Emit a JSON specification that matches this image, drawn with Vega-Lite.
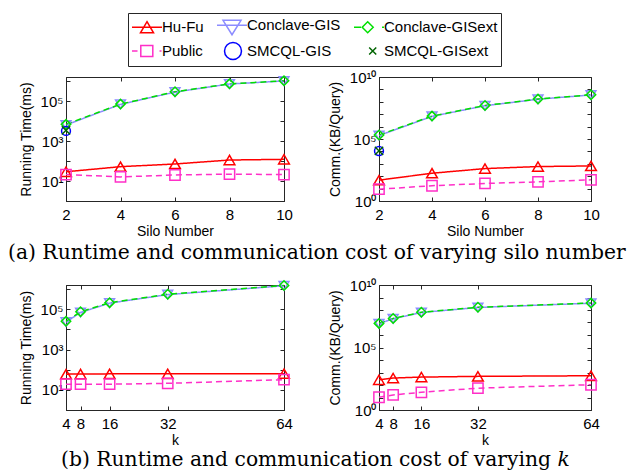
{
  "$schema": "https://vega.github.io/schema/vega-lite/v6.json",
  "padding": {"left": 7, "top": 12, "right": 0, "bottom": 0},
  "background": "white",
  "datasets": {
    "pts": [
      {"p": "a1", "m": "Hu-Fu", "x": 2, "v": 29},
      {"p": "a1", "m": "Hu-Fu", "x": 4, "v": 52},
      {"p": "a1", "m": "Hu-Fu", "x": 6, "v": 71},
      {"p": "a1", "m": "Hu-Fu", "x": 8, "v": 112},
      {"p": "a1", "m": "Hu-Fu", "x": 10, "v": 121},
      {"p": "a1", "m": "Public", "x": 2, "v": 21},
      {"p": "a1", "m": "Public", "x": 4, "v": 16},
      {"p": "a1", "m": "Public", "x": 6, "v": 20},
      {"p": "a1", "m": "Public", "x": 8, "v": 22},
      {"p": "a1", "m": "Public", "x": 10, "v": 21},
      {"p": "a1", "m": "Conclave-GIS", "x": 2, "v": 6300},
      {"p": "a1", "m": "Conclave-GIS", "x": 4, "v": 68000},
      {"p": "a1", "m": "Conclave-GIS", "x": 6, "v": 280000},
      {"p": "a1", "m": "Conclave-GIS", "x": 8, "v": 710000},
      {"p": "a1", "m": "Conclave-GIS", "x": 10, "v": 1000000},
      {"p": "a1", "m": "Conclave-GISext", "x": 2, "v": 6800},
      {"p": "a1", "m": "Conclave-GISext", "x": 4, "v": 70000},
      {"p": "a1", "m": "Conclave-GISext", "x": 6, "v": 290000},
      {"p": "a1", "m": "Conclave-GISext", "x": 8, "v": 720000},
      {"p": "a1", "m": "Conclave-GISext", "x": 10, "v": 1020000},
      {"p": "a1", "m": "SMCQL-GIS", "x": 2, "v": 3200},
      {"p": "a1", "m": "SMCQL-GISext", "x": 2, "v": 3400},

      {"p": "a2", "m": "Hu-Fu", "x": 2, "v": 48},
      {"p": "a2", "m": "Hu-Fu", "x": 4, "v": 174},
      {"p": "a2", "m": "Hu-Fu", "x": 6, "v": 410},
      {"p": "a2", "m": "Hu-Fu", "x": 8, "v": 600},
      {"p": "a2", "m": "Hu-Fu", "x": 10, "v": 670},
      {"p": "a2", "m": "Public", "x": 2, "v": 9},
      {"p": "a2", "m": "Public", "x": 4, "v": 17},
      {"p": "a2", "m": "Public", "x": 6, "v": 26},
      {"p": "a2", "m": "Public", "x": 8, "v": 35},
      {"p": "a2", "m": "Public", "x": 10, "v": 51},
      {"p": "a2", "m": "Conclave-GIS", "x": 2, "v": 190000},
      {"p": "a2", "m": "Conclave-GIS", "x": 4, "v": 6700000},
      {"p": "a2", "m": "Conclave-GIS", "x": 6, "v": 48000000},
      {"p": "a2", "m": "Conclave-GIS", "x": 8, "v": 160000000},
      {"p": "a2", "m": "Conclave-GIS", "x": 10, "v": 360000000},
      {"p": "a2", "m": "Conclave-GISext", "x": 2, "v": 210000},
      {"p": "a2", "m": "Conclave-GISext", "x": 4, "v": 7000000},
      {"p": "a2", "m": "Conclave-GISext", "x": 6, "v": 50000000},
      {"p": "a2", "m": "Conclave-GISext", "x": 8, "v": 165000000},
      {"p": "a2", "m": "Conclave-GISext", "x": 10, "v": 370000000},
      {"p": "a2", "m": "SMCQL-GIS", "x": 2, "v": 10700},
      {"p": "a2", "m": "SMCQL-GISext", "x": 2, "v": 11000},

      {"p": "b1", "m": "Hu-Fu", "x": 4, "v": 60},
      {"p": "b1", "m": "Hu-Fu", "x": 8, "v": 61},
      {"p": "b1", "m": "Hu-Fu", "x": 16, "v": 62},
      {"p": "b1", "m": "Hu-Fu", "x": 32, "v": 62},
      {"p": "b1", "m": "Hu-Fu", "x": 64, "v": 63},
      {"p": "b1", "m": "Public", "x": 4, "v": 19},
      {"p": "b1", "m": "Public", "x": 8, "v": 19},
      {"p": "b1", "m": "Public", "x": 16, "v": 19},
      {"p": "b1", "m": "Public", "x": 32, "v": 21},
      {"p": "b1", "m": "Public", "x": 64, "v": 32},
      {"p": "b1", "m": "Conclave-GIS", "x": 4, "v": 23000},
      {"p": "b1", "m": "Conclave-GIS", "x": 8, "v": 69000},
      {"p": "b1", "m": "Conclave-GIS", "x": 16, "v": 200000},
      {"p": "b1", "m": "Conclave-GIS", "x": 32, "v": 530000},
      {"p": "b1", "m": "Conclave-GIS", "x": 64, "v": 1450000},
      {"p": "b1", "m": "Conclave-GISext", "x": 4, "v": 25000},
      {"p": "b1", "m": "Conclave-GISext", "x": 8, "v": 75000},
      {"p": "b1", "m": "Conclave-GISext", "x": 16, "v": 210000},
      {"p": "b1", "m": "Conclave-GISext", "x": 32, "v": 550000},
      {"p": "b1", "m": "Conclave-GISext", "x": 64, "v": 1500000},

      {"p": "b2", "m": "Hu-Fu", "x": 4, "v": 260},
      {"p": "b2", "m": "Hu-Fu", "x": 8, "v": 360},
      {"p": "b2", "m": "Hu-Fu", "x": 16, "v": 430},
      {"p": "b2", "m": "Hu-Fu", "x": 32, "v": 490},
      {"p": "b2", "m": "Hu-Fu", "x": 64, "v": 550},
      {"p": "b2", "m": "Public", "x": 4, "v": 10.5},
      {"p": "b2", "m": "Public", "x": 8, "v": 16},
      {"p": "b2", "m": "Public", "x": 16, "v": 26},
      {"p": "b2", "m": "Public", "x": 32, "v": 56},
      {"p": "b2", "m": "Public", "x": 64, "v": 105},
      {"p": "b2", "m": "Conclave-GIS", "x": 4, "v": 8000000},
      {"p": "b2", "m": "Conclave-GIS", "x": 8, "v": 20000000},
      {"p": "b2", "m": "Conclave-GIS", "x": 16, "v": 63000000},
      {"p": "b2", "m": "Conclave-GIS", "x": 32, "v": 160000000},
      {"p": "b2", "m": "Conclave-GIS", "x": 64, "v": 350000000},
      {"p": "b2", "m": "Conclave-GISext", "x": 4, "v": 8500000},
      {"p": "b2", "m": "Conclave-GISext", "x": 8, "v": 21000000},
      {"p": "b2", "m": "Conclave-GISext", "x": 16, "v": 66000000},
      {"p": "b2", "m": "Conclave-GISext", "x": 32, "v": 165000000},
      {"p": "b2", "m": "Conclave-GISext", "x": 64, "v": 360000000}
    ]
  },
  "config": {
    "view": {"stroke": "#262626", "strokeWidth": 1},
    "axis": {
      "labelFont": "Liberation Sans", "labelFontSize": 15, "labelColor": "#000",
      "titleFont": "Liberation Sans", "titleFontSize": 14, "titleFontWeight": "normal", "titleColor": "#000",
      "grid": false, "domainColor": "#262626", "tickColor": "#262626", "tickSize": -4,
      "labelOverlap": false, "labelFlush": false
    },
    "axisX": {"labelPadding": 10, "titlePadding": 2},
    "axisY": {"labelPadding": 7, "titlePadding": 7},
    "title": {"font": "DejaVu Serif", "fontSize": 20.3, "fontWeight": "normal", "color": "#000",
              "orient": "bottom", "anchor": "start", "frame": "group", "baseline": "middle"}
  },
  "bounds": "flush",
  "columns": 2,
  "spacing": {"row": 84, "column": 95},
  "concat": [
    {
      "width": 218, "height": 124,
      "title": {"text": "(a) Runtime and communication cost of varying silo number", "offset": 5, "dx": -58},
      "data": {"name": "pts"},
      "transform": [{"filter": "datum.p == 'a1'"}],
      "resolve": {"axis": {"x": "independent", "y": "independent"}},
      "layer": [
        {
          "mark": {"type": "line", "strokeWidth": 1.5},
          "encoding": {
            "x": {"field": "x", "type": "quantitative", "scale": {"domain": [2, 10], "nice": false, "zero": false},
                  "axis": {"orient": "top", "labels": false, "title": null, "domain": false, "values": [2, 4, 6, 8, 10]}},
            "y": {"field": "v", "type": "quantitative", "scale": {"type": "log", "domain": [1, 1584893], "nice": false},
                  "axis": {"orient": "right", "labels": false, "title": null, "domain": false, "values": [1, 10, 100, 1000, 10000, 100000, 1000000]}},
            "color": {
              "field": "m", "type": "nominal",
              "scale": {"domain": ["Hu-Fu", "Conclave-GIS", "Conclave-GISext", "Public", "SMCQL-GIS", "SMCQL-GISext"],
                        "range": ["#FF0000", "#8C8CFF", "#00E000", "#FF2FC8", "#0000FF", "#006400"]},
              "legend": {
                "orient": "none", "legendX": 62, "legendY": -64,
                "direction": "horizontal", "columns": 3, "title": null,
                "strokeColor": "#262626", "fillColor": "#ffffff", "padding": 3,
                "labelFont": "Liberation Sans", "labelFontSize": 15, "labelColor": "#000",
                "symbolSize": 256, "symbolStrokeWidth": 1.5, "labelOffset": 13,
                "columnPadding": 10, "rowPadding": 1,
                "encode": {
                  "symbols": {
                    "update": {
                      "shape": {"signal": "datum.value == 'Hu-Fu' ? 'M-1,0H2.75M0.875,-0.69L1.69,0.69L0.06,0.69Z' : datum.value == 'Conclave-GIS' ? 'M-1,0H2.75M-0.25,-0.62L2,-0.62L0.875,1.19Z' : datum.value == 'Conclave-GISext' ? 'M-1,0H-0.125M0.71,-0.69L1.4,0L0.71,0.69L0.025,0ZM2.5,0H2.75' : datum.value == 'Public' ? 'M-1,0H-0.31M0.1,-0.69H1.6V0.69H0.1ZM2.44,0H2.69' : datum.value == 'SMCQL-GIS' ? 'M2.06,0A1.06,1.06,0,1,1,-0.06,0A1.06,1.06,0,1,1,2.06,0Z' : 'M0.9,-0.44L1.78,0.44M0.9,0.44L1.78,-0.44'"},
                      "fill": {"value": "transparent"},
                      "opacity": {"value": 1}
                    }
                  }
                }
              }
            },
            "strokeDash": {"field": "m", "type": "nominal", "legend": null,
              "scale": {"domain": ["Hu-Fu", "Public", "Conclave-GIS", "Conclave-GISext", "SMCQL-GIS", "SMCQL-GISext"],
                        "range": [[1, 0], [6, 4], [1, 0], [6, 4], [1, 0], [1, 0]]}}
          }
        },
        {
          "mark": {"type": "point", "filled": false, "strokeWidth": 1.5, "opacity": 1},
          "encoding": {
            "x": {"field": "x", "type": "quantitative", "axis": {"orient": "bottom", "title": "Silo Number", "values": [2, 4, 6, 8, 10]}},
            "y": {"field": "v", "type": "quantitative",
                  "axis": {"orient": "left", "title": "Running Time(ms)", "values": [1, 10, 100, 1000, 10000, 100000, 1000000],
                           "labelExpr": "datum.value == 10 ? '10¹' : datum.value == 1000 ? '10³' : datum.value == 100000 ? '10⁵' : ''"}},
            "color": {"field": "m", "type": "nominal", "legend": null},
            "shape": {"field": "m", "type": "nominal", "legend": null,
              "scale": {"domain": ["Hu-Fu", "Public", "Conclave-GIS", "Conclave-GISext", "SMCQL-GIS", "SMCQL-GISext"],
                        "range": ["triangle-up", "square", "triangle-down", "diamond", "circle", "M-1,-1L1,1M-1,1L1,-1"]}},
            "size": {"field": "m", "type": "nominal", "legend": null,
              "scale": {"domain": ["Hu-Fu", "Public", "Conclave-GIS", "Conclave-GISext", "SMCQL-GIS", "SMCQL-GISext"],
                        "range": [115, 70, 178, 55, 115, 40]}}
          }
        }
      ]
    },
    {
      "width": 212, "height": 124,
      "data": {"name": "pts"},
      "transform": [{"filter": "datum.p == 'a2'"}],
      "resolve": {"axis": {"x": "independent", "y": "independent"}},
      "layer": [
        {
          "mark": {"type": "line", "strokeWidth": 1.5},
          "encoding": {
            "x": {"field": "x", "type": "quantitative", "scale": {"domain": [2, 10], "nice": false, "zero": false},
                  "axis": {"orient": "top", "labels": false, "title": null, "domain": false, "values": [2, 4, 6, 8, 10]}},
            "y": {"field": "v", "type": "quantitative", "scale": {"type": "log", "domain": [1, 10000000000], "nice": false},
                  "axis": {"orient": "right", "labels": false, "title": null, "domain": false, "values": [1, 10, 100, 1000, 10000, 100000, 1000000, 10000000, 100000000, 1000000000, 10000000000]}},
            "color": {"field": "m", "type": "nominal", "legend": null},
            "strokeDash": {"field": "m", "type": "nominal", "legend": null}
          }
        },
        {
          "mark": {"type": "point", "filled": false, "strokeWidth": 1.5, "opacity": 1},
          "encoding": {
            "x": {"field": "x", "type": "quantitative", "axis": {"orient": "bottom", "title": "Silo Number", "values": [2, 4, 6, 8, 10]}},
            "y": {"field": "v", "type": "quantitative",
                  "axis": {"orient": "left", "title": "Comm.(KB/Query)", "values": [1, 10, 100, 1000, 10000, 100000, 1000000, 10000000, 100000000, 1000000000, 10000000000],
                           "labelExpr": "datum.value == 1 ? '10⁰' : datum.value == 100000 ? '10⁵' : datum.value == 10000000000 ? '10¹⁰' : ''"}},
            "color": {"field": "m", "type": "nominal", "legend": null},
            "shape": {"field": "m", "type": "nominal", "legend": null},
            "size": {"field": "m", "type": "nominal", "legend": null}
          }
        }
      ]
    },
    {
      "width": 218, "height": 125,
      "title": {"text": "(b) Runtime and communication cost of varying 𝑘", "offset": 3, "dx": -5},
      "data": {"name": "pts"},
      "transform": [{"filter": "datum.p == 'b1'"}],
      "resolve": {"axis": {"x": "independent", "y": "independent"}},
      "layer": [
        {
          "mark": {"type": "line", "strokeWidth": 1.5},
          "encoding": {
            "x": {"field": "x", "type": "quantitative", "scale": {"domain": [4, 64], "nice": false, "zero": false},
                  "axis": {"orient": "top", "labels": false, "title": null, "domain": false, "values": [4, 8, 16, 32, 64]}},
            "y": {"field": "v", "type": "quantitative", "scale": {"type": "log", "domain": [1, 1584893], "nice": false},
                  "axis": {"orient": "right", "labels": false, "title": null, "domain": false, "values": [1, 10, 100, 1000, 10000, 100000, 1000000]}},
            "color": {"field": "m", "type": "nominal", "legend": null},
            "strokeDash": {"field": "m", "type": "nominal", "legend": null}
          }
        },
        {
          "mark": {"type": "point", "filled": false, "strokeWidth": 1.5, "opacity": 1},
          "encoding": {
            "x": {"field": "x", "type": "quantitative", "axis": {"orient": "bottom", "title": "k", "values": [4, 8, 16, 32, 64]}},
            "y": {"field": "v", "type": "quantitative",
                  "axis": {"orient": "left", "title": "Running Time(ms)", "values": [1, 10, 100, 1000, 10000, 100000, 1000000],
                           "labelExpr": "datum.value == 10 ? '10¹' : datum.value == 1000 ? '10³' : datum.value == 100000 ? '10⁵' : ''"}},
            "color": {"field": "m", "type": "nominal", "legend": null},
            "shape": {"field": "m", "type": "nominal", "legend": null},
            "size": {"field": "m", "type": "nominal", "legend": null}
          }
        }
      ]
    },
    {
      "width": 212, "height": 125,
      "data": {"name": "pts"},
      "transform": [{"filter": "datum.p == 'b2'"}],
      "resolve": {"axis": {"x": "independent", "y": "independent"}},
      "layer": [
        {
          "mark": {"type": "line", "strokeWidth": 1.5},
          "encoding": {
            "x": {"field": "x", "type": "quantitative", "scale": {"domain": [4, 64], "nice": false, "zero": false},
                  "axis": {"orient": "top", "labels": false, "title": null, "domain": false, "values": [4, 8, 16, 32, 64]}},
            "y": {"field": "v", "type": "quantitative", "scale": {"type": "log", "domain": [1, 10000000000], "nice": false},
                  "axis": {"orient": "right", "labels": false, "title": null, "domain": false, "values": [1, 10, 100, 1000, 10000, 100000, 1000000, 10000000, 100000000, 1000000000, 10000000000]}},
            "color": {"field": "m", "type": "nominal", "legend": null},
            "strokeDash": {"field": "m", "type": "nominal", "legend": null}
          }
        },
        {
          "mark": {"type": "point", "filled": false, "strokeWidth": 1.5, "opacity": 1},
          "encoding": {
            "x": {"field": "x", "type": "quantitative", "axis": {"orient": "bottom", "title": "k", "values": [4, 8, 16, 32, 64]}},
            "y": {"field": "v", "type": "quantitative",
                  "axis": {"orient": "left", "title": "Comm.(KB/Query)", "values": [1, 10, 100, 1000, 10000, 100000, 1000000, 10000000, 100000000, 1000000000, 10000000000],
                           "labelExpr": "datum.value == 1 ? '10⁰' : datum.value == 100000 ? '10⁵' : datum.value == 10000000000 ? '10¹⁰' : ''"}},
            "color": {"field": "m", "type": "nominal", "legend": null},
            "shape": {"field": "m", "type": "nominal", "legend": null},
            "size": {"field": "m", "type": "nominal", "legend": null}
          }
        }
      ]
    }
  ]
}
